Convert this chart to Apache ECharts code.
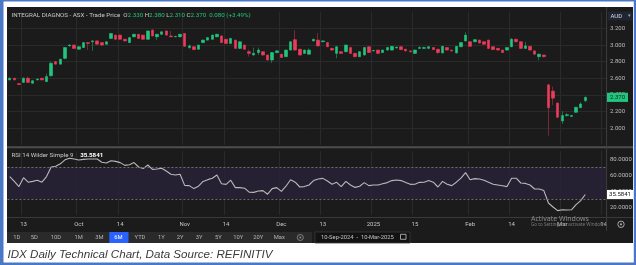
<!DOCTYPE html>
<html><head><meta charset="utf-8">
<script src="https://cdn.jsdelivr.net/npm/echarts/dist/echarts.min.js"></script>
<style>html,body{margin:0;padding:0;background:#fff}#c{width:636px;height:265px}</style>
</head><body><div id="c"></div>
<script>
// ---------- data ----------
const firstDay = '2024-09-10';
const lastAxisDay = '2025-03-14';
const holidays = ['2024-12-25','2024-12-26','2025-01-01','2025-01-27'];

const tickDates  = ['2024-09-13','2024-10-01','2024-10-14','2024-11-01','2024-11-14','2024-12-02','2024-12-13','2025-01-02','2025-01-15','2025-02-03','2025-02-14','2025-03-03','2025-03-14'];
const tickLabels = ['13','Oct','14','Nov','14','Dec','13','2025','15','Feb','14','Mar','14'];

const opens = [
2.58,2.60,2.535,2.55,2.60,2.54,2.58,2.60,2.56,2.63,
2.80,2.77,2.84,2.99,3.00,2.95,2.97,3.03,3.04,3.05,
3.03,3.01,3.08,3.12,3.12,3.07,3.03,3.10,3.13,3.12,
3.07,3.18,3.10,3.13,3.17,3.11,3.10,3.10,3.14,2.97,
2.98,2.95,3.03,3.06,3.07,3.10,3.11,3.07,3.02,3.06,
2.96,3.00,2.92,2.88,2.91,2.92,2.88,2.82,2.91,2.89,
2.86,2.94,3.065,2.95,2.90,2.89,3.05,3.06,3.04,3.03,
2.96,2.90,2.92,2.92,2.97,2.90,2.86,2.88,2.98,2.93,
2.94,2.91,2.94,2.94,2.965,2.98,2.95,2.93,2.90,2.96,
2.96,2.96,2.97,2.95,2.905,2.97,2.94,2.905,2.98,3.05,
3.04,3.04,3.06,3.04,3.06,2.98,2.96,2.94,2.94,2.98,
3.07,3.04,2.96,2.985,2.93,2.86,2.88,2.52,2.445,2.30,
2.085,2.15,2.14,2.19,2.245,2.33];
const closes = [
2.60,2.58,2.525,2.60,2.55,2.57,2.59,2.58,2.62,2.78,
2.77,2.83,2.97,3.00,2.96,2.98,3.03,3.02,3.05,3.01,
3.00,3.04,3.14,3.07,3.07,3.05,3.09,3.13,3.08,3.07,
3.17,3.11,3.13,3.16,3.12,3.10,3.105,3.13,2.985,2.99,
2.945,3.00,3.06,3.09,3.12,3.13,3.03,3.02,3.08,2.96,
3.04,2.95,2.90,2.90,2.94,2.88,2.82,2.91,2.93,2.85,
2.94,3.04,2.94,2.88,2.94,2.94,3.07,2.99,3.05,2.98,
2.94,2.98,2.90,3.00,2.90,2.86,2.92,2.97,2.91,2.935,
2.90,2.94,2.97,2.985,2.975,2.945,2.93,2.92,2.94,2.97,
2.97,2.98,2.945,2.91,2.985,2.94,2.93,2.985,3.03,3.12,
2.985,3.065,3.025,3.01,2.96,2.945,2.94,2.91,2.97,3.07,
3.04,2.96,2.99,2.94,2.89,2.89,2.86,2.245,2.36,2.13,
2.15,2.16,2.15,2.25,2.29,2.37];
const highs = [
2.61,2.605,2.545,2.61,2.62,2.575,2.60,2.605,2.655,2.80,
2.81,2.835,2.975,3.01,3.005,2.985,3.035,3.035,3.055,3.055,
3.035,3.045,3.145,3.125,3.125,3.075,3.095,3.135,3.135,3.125,
3.175,3.19,3.135,3.165,3.175,3.17,3.11,3.135,3.145,3.005,
2.985,3.005,3.065,3.095,3.125,3.135,3.115,3.075,3.085,3.065,
3.045,3.005,2.945,2.97,2.97,2.925,2.885,2.915,2.935,2.895,
2.945,3.045,3.18,2.955,2.945,2.96,3.075,3.145,3.055,3.035,
2.965,2.985,2.925,3.005,2.975,2.905,2.925,2.975,2.985,2.94,
2.945,2.945,2.98,2.99,2.98,2.985,2.955,2.935,2.945,2.985,
2.98,2.985,2.975,2.955,2.99,2.975,2.945,2.99,3.035,3.155,
3.045,3.07,3.065,3.045,3.065,2.985,2.965,2.945,2.975,3.085,
3.075,3.045,3.04,2.99,2.935,2.895,2.885,2.534,2.50,2.31,
2.205,2.18,2.155,2.255,2.31,2.38];
const lows = [
2.575,2.575,2.52,2.545,2.545,2.535,2.575,2.575,2.555,2.62,
2.765,2.765,2.83,2.985,2.955,2.945,2.965,2.94,2.93,3.005,
2.995,3.005,3.075,3.065,3.065,3.045,3.025,3.095,3.075,3.065,
3.065,3.105,3.06,3.125,3.115,3.095,3.095,3.095,2.98,2.955,
2.94,2.945,3.025,3.055,3.065,3.095,3.025,3.015,3.015,2.955,
2.955,2.945,2.86,2.875,2.88,2.875,2.815,2.785,2.90,2.845,
2.855,2.935,2.935,2.875,2.895,2.885,3.045,2.985,3.035,2.975,
2.935,2.84,2.895,2.915,2.895,2.855,2.855,2.875,2.905,2.925,
2.895,2.905,2.935,2.935,2.96,2.94,2.92,2.91,2.895,2.955,
2.955,2.955,2.94,2.89,2.90,2.935,2.92,2.90,2.975,3.045,
2.98,3.035,3.02,3.005,2.955,2.94,2.935,2.905,2.935,2.975,
3.035,2.955,2.955,2.935,2.885,2.816,2.85,1.907,2.277,2.12,
2.05,2.14,2.135,2.185,2.24,2.31];
const rsi = [
58,52,45.5,56.6,51,52,53.5,51,58,70,
71,74,79,81,80,78.8,79.5,80,80,80,
76,75,77.9,77,75.5,72,72.9,75.5,70,68,
72.5,67,67.5,68.5,65,61,60,61,47,46.7,
43,46,52,54.2,56,60,49,48.3,53.5,44.2,
44.2,43.5,38.5,38.3,40,40.5,36,43,44.2,39.5,
46,54,51,45,45.5,47.5,53,55,55.8,52.5,
48.5,50.8,45.5,52,47.5,44.5,46,50.5,46.7,47.5,
47.5,49,50.5,53,53.8,53,50.5,48.3,48.5,50.8,
51,53,51,45,52,48.5,46.7,51,56,63,
54,55.5,55,53.5,51,48.5,47.5,46.5,45.5,56,
56,50,49.5,47.5,42.5,42.5,40.5,25,20,15.5,
16.5,16.2,16.5,23,28,35.5841];
const rsiBand = [30, 70];
const rsiLabelTicks = [20, 40, 60, 80];

// ---------- helpers ----------
function tradingDays(start, end, hol) {
  const out = []; const d = new Date(start + 'T00:00:00Z'); const e = new Date(end + 'T00:00:00Z');
  while (d <= e) {
    const s = d.toISOString().slice(0, 10); const wd = d.getUTCDay();
    if (wd !== 0 && wd !== 6 && hol.indexOf(s) < 0) out.push(s);
    d.setUTCDate(d.getUTCDate() + 1);
  }
  return out;
}
const dates = tradingDays(firstDay, lastAxisDay, holidays);
const tickMap = {}; tickDates.forEach((d, i) => tickMap[d] = tickLabels[i]);
const isTick = (i, v) => tickMap[v] !== undefined;

const wickData = opens.map((o, i) => [o, closes[i], lows[i], highs[i]]);
const bodyData = opens.map((o, i) => [o, closes[i], Math.min(o, closes[i]), Math.max(o, closes[i])]);

const FONT = 'Roboto, "Noto Sans", sans-serif';
const UP = '#22c47e', DOWN = '#ee3a5b', UPW = '#1b6a48', DOWNW = '#7a2638';
const GRIDC = '#2a2a2a';

const chart = echarts.init(document.getElementById('c'), null, {renderer: 'canvas'});
const priceSplitColors = ['rgba(0,0,0,0)', GRIDC, GRIDC, GRIDC, GRIDC, GRIDC, GRIDC, GRIDC, 'rgba(0,0,0,0)'];

chart.setOption({
  animation: false,
  backgroundColor: 'rgba(0,0,0,0)',
  grid: [
    {left: 7.4, right: 30, top: 11.9, height: 132.7, outerBoundsMode: 'none', containLabel: false},
    {left: 7.4, right: 30, top: 151, height: 64, outerBoundsMode: 'none', containLabel: false}
  ],
  xAxis: [
    {type: 'category', gridIndex: 0, data: dates, boundaryGap: true,
     axisLine: {show: false}, axisTick: {show: false}, axisLabel: {show: false},
     splitLine: {show: true, interval: isTick, lineStyle: {color: GRIDC, width: 1}}},
    {type: 'category', gridIndex: 1, data: dates, boundaryGap: true,
     axisLine: {show: false}, axisTick: {show: false},
     axisLabel: {show: true, interval: isTick, formatter: v => tickMap[v] || '', color: '#c4c4c4', fontSize: 6, fontFamily: FONT, margin: 6},
     splitLine: {show: true, interval: isTick, lineStyle: {color: GRIDC, width: 1}}}
  ],
  yAxis: [
    {type: 'value', gridIndex: 0, position: 'right', min: 1.8, max: 3.4, interval: 0.2,
     axisLine: {show: false}, axisTick: {show: false},
     axisLabel: {color: '#bdbdbd', fontSize: 6, fontFamily: FONT, margin: 4, showMinLabel: false, showMaxLabel: false,
       formatter: v => v.toFixed(3)},
     splitLine: {show: true, lineStyle: {color: priceSplitColors, width: 1}}},
    {type: 'value', gridIndex: 1, position: 'right', min: 10, max: 90, interval: 10,
     axisLine: {show: false}, axisTick: {show: false},
     axisLabel: {color: '#bdbdbd', fontSize: 6, fontFamily: FONT, margin: 4,
       formatter: v => rsiLabelTicks.indexOf(v) >= 0 ? v.toFixed(4) : ''},
     splitLine: {show: false}}
  ],
  series: [
    {type: 'candlestick', name: 'wick', xAxisIndex: 0, yAxisIndex: 0, data: wickData, barWidth: 1,
     itemStyle: {color: 'rgba(0,0,0,0)', color0: 'rgba(0,0,0,0)', borderColor: UPW, borderColor0: DOWNW, borderWidth: 1}, z: 3},
    {type: 'candlestick', name: 'body', xAxisIndex: 0, yAxisIndex: 0, data: bodyData, barWidth: 3,
     itemStyle: {color: UP, color0: DOWN, borderColor: UP, borderColor0: DOWN, borderWidth: 0.6}, z: 4},
    {type: 'line', name: 'RSI', xAxisIndex: 1, yAxisIndex: 1, data: rsi, showSymbol: false, symbol: 'none',
     lineStyle: {color: '#b9b9b9', width: 1.1}, z: 4,
     markArea: {silent: true, itemStyle: {color: '#28233a', opacity: 0.8}, data: [[{yAxis: rsiBand[0]}, {yAxis: rsiBand[1]}]]},
     markLine: {silent: true, symbol: 'none', label: {show: false},
       lineStyle: {color: '#6c6c6c', type: [2, 2], width: 1}, data: [{yAxis: rsiBand[0]}, {yAxis: rsiBand[1]}]}}
  ]
});

// ---------- decorations (labels positioned through the axes' scales) ----------
const lastClose = closes[closes.length - 1];
const lastRsi = rsi[rsi.length - 1];
const pY = chart.convertToPixel({yAxisIndex: 0}, lastClose);
const rY = chart.convertToPixel({yAxisIndex: 1}, lastRsi);
const prevClose = closes[closes.length - 2];
const chg = lastClose - prevClose;
const chgPct = chg / prevClose * 100;
const f3 = v => v.toFixed(3);

const buttons = ['1D','5D','10D','1M','3M','6M','YTD','1Y','2Y','3Y','5Y','10Y','20Y','Max'];
const btnX = [16.7,34.3,56,78.7,99.3,118.3,140,161.3,180,199,218.3,238.3,258.3,279.3];

const els = [];
els.push({type: 'rect', z: -100, shape: {x: 7, y: 7, width: 626, height: 236}, style: {fill: '#1b1b1b'}});
els.push({type: 'rect', z: 200, shape: {x: 0, y: 0, width: 3.5, height: 265}, style: {fill: '#4a78c6'}});
els.push({type: 'rect', z: 200, shape: {x: 0, y: 0, width: 636, height: 1.5}, style: {fill: '#4a78c6'}});
els.push({type: 'rect', z: 200, shape: {x: 633.8, y: 0, width: 2.2, height: 265}, style: {fill: '#4a78c6'}});
els.push({type: 'rect', z: 200, shape: {x: 0, y: 262.6, width: 636, height: 2.4}, style: {fill: '#4a78c6'}});
els.push({type: 'line', z: 50, shape: {x1: 7, y1: 147.2, x2: 633, y2: 147.2}, style: {stroke: '#4e4e4e', lineWidth: 2}});
els.push({type: 'line', z: 50, shape: {x1: 7, y1: 217.5, x2: 633, y2: 217.5}, style: {stroke: '#3a3a3a', lineWidth: 1}});
els.push({type: 'line', z: 50, shape: {x1: 606.6, y1: 7, x2: 606.6, y2: 231}, style: {stroke: '#3c3c3c', lineWidth: 1}});
els.push({type: 'text', z: 60, x: 11.5, y: 15.5, style: {
  text: '{n|INTEGRAL DIAGNOS - ASX - Trade Price}  {n|O}{g|' + f3(opens[opens.length-1]) + '} {n|H}{g|' + f3(highs[highs.length-1]) +
        '} {n|L}{g|' + f3(lows[lows.length-1]) + '} {n|C}{g|' + f3(lastClose) + '}  {g|' + f3(chg) + ' (+' + chgPct.toFixed(2) + '%)}',
  verticalAlign: 'middle', font: '6.2px ' + FONT,
  rich: {n: {fill: '#c8c8c8', fontSize: 6.2, fontFamily: FONT}, g: {fill: '#22c47e', fontSize: 6.2, fontFamily: FONT}}}});
els.push({type: 'rect', z: 60, shape: {x: 608, y: 11.5, width: 24.5, height: 9}, style: {fill: '#1f2533'}});
els.push({type: 'text', z: 61, x: 610.5, y: 16.2, style: {text: 'AUD', fill: '#dcdcdc', font: '6px ' + FONT, verticalAlign: 'middle'}});
els.push({type: 'text', z: 61, x: 628, y: 16.2, style: {text: '▾', fill: '#aaaaaa', font: '5px ' + FONT, verticalAlign: 'middle'}});
els.push({type: 'rect', z: 60, shape: {x: 607, y: pY - 4.6, width: 21, height: 9.2}, style: {fill: '#22c47e'}});
els.push({type: 'text', z: 61, x: 617.5, y: pY, style: {text: f3(lastClose), fill: '#0d2a1c', font: '6px ' + FONT, align: 'center', verticalAlign: 'middle'}});
els.push({type: 'text', z: 60, x: 11.5, y: 155.7, style: {
  text: '{n|RSI 14 Wilder Simple 9}  {b|' + lastRsi.toFixed(4) + '}', verticalAlign: 'middle',
  rich: {n: {fill: '#c8c8c8', fontSize: 6.2, fontFamily: FONT}, b: {fill: '#ffffff', fontSize: 6.2, fontWeight: 'bold', fontFamily: FONT}}}});
els.push({type: 'rect', z: 60, shape: {x: 607, y: rY - 4.6, width: 26, height: 9.2}, style: {fill: '#ffffff'}});
els.push({type: 'text', z: 61, x: 620, y: rY, style: {text: lastRsi.toFixed(4), fill: '#111', font: '6px ' + FONT, align: 'center', verticalAlign: 'middle'}});
els.push({type: 'circle', z: 60, shape: {cx: 621, cy: 224.3, r: 3.2}, style: {fill: 'none', stroke: '#a8a8a8', lineWidth: 1}});
els.push({type: 'circle', z: 60, shape: {cx: 621, cy: 224.3, r: 1.1}, style: {fill: '#a8a8a8'}});
els.push({type: 'text', z: 55, x: 531, y: 218.5, style: {text: 'Activate Windows', fill: '#8c8c8c', font: '7px "Noto Sans", sans-serif', verticalAlign: 'middle'}});
els.push({type: 'text', z: 55, x: 531, y: 225, style: {text: 'Go to Settings to activate Windows.', fill: '#7a7a7a', font: '4.6px "Noto Sans", sans-serif', verticalAlign: 'middle'}});
els.push({type: 'rect', z: 40, shape: {x: 7, y: 232, width: 305, height: 11}, style: {fill: '#2a2a2a'}});
els.push({type: 'rect', z: 41, shape: {x: 109.3, y: 232, width: 19.2, height: 11}, style: {fill: '#2962ff'}});
buttons.forEach((b, i) => {
  els.push({type: 'text', z: 42, x: btnX[i], y: 237.6, style: {text: b, fill: b === '6M' ? '#ffffff' : '#b4b4b4', font: '5.8px ' + FONT, align: 'center', verticalAlign: 'middle'}});
});
els.push({type: 'circle', z: 42, shape: {cx: 300.3, cy: 237.5, r: 3}, style: {fill: 'none', stroke: '#8c8c8c', lineWidth: 0.9}});
els.push({type: 'circle', z: 42, shape: {cx: 300.3, cy: 237.5, r: 1}, style: {fill: '#8c8c8c'}});
els.push({type: 'rect', z: 40, shape: {x: 315, y: 232, width: 95, height: 11}, style: {fill: '#121212', stroke: '#3a3a3a', lineWidth: 0.8}});
els.push({type: 'text', z: 41, x: 321, y: 237.6, style: {text: '10-Sep-2024  -  10-Mar-2025', fill: '#c4c4c4', font: '5.8px ' + FONT, verticalAlign: 'middle'}});
els.push({type: 'rect', z: 41, shape: {x: 400.5, y: 234.3, width: 5.5, height: 5}, style: {fill: 'none', stroke: '#c4c4c4', lineWidth: 0.8}});
els.push({type: 'text', z: 60, x: 7.5, y: 254.5, style: {text: 'IDX Daily Technical Chart, Data Source: REFINITIV', fill: '#3a3a3a',
  font: 'italic 11.6px "Liberation Sans", sans-serif', verticalAlign: 'middle'}});

chart.setOption({graphic: {elements: els}});
</script>
</body></html>
